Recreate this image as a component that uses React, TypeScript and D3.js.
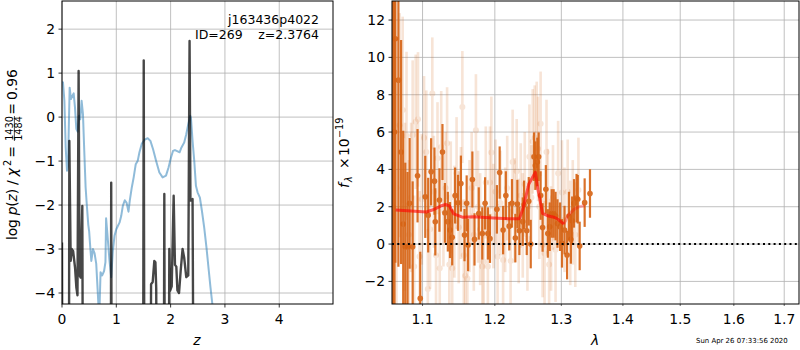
import React from "react";
import * as d3 from "d3";

// ---------- Left panel data (log p(z)) ----------
const blueZ = [0.0, 0.018, 0.044, 0.068, 0.092, 0.11, 0.141, 0.165, 0.19, 0.215, 0.239, 0.264, 0.288, 0.312, 0.337, 0.361, 0.386, 0.41, 0.435, 0.46, 0.484, 0.5, 0.52, 0.54, 0.57, 0.6, 0.63, 0.655, 0.685, 0.71, 0.74, 0.775, 0.8, 0.812, 0.83, 0.875, 0.906, 0.936, 0.967, 1.0, 1.03, 1.059, 1.09, 1.12, 1.156, 1.19, 1.224, 1.248, 1.285, 1.32, 1.358, 1.395, 1.426, 1.468, 1.517, 1.578, 1.628, 1.677, 1.732, 1.793, 1.853, 1.915, 1.963, 2.007, 2.044, 2.08, 2.13, 2.165, 2.2, 2.25, 2.288, 2.325, 2.362, 2.374, 2.404, 2.435, 2.466, 2.496, 2.539, 2.576, 2.618, 2.66, 2.697, 2.734, 2.77, 2.85];
const blueP = [0.8, 0.79, 0.37, -0.69, -1.22, -1.12, 0.67, 0.41, 0.48, 0.54, 0.22, -0.27, -0.33, 0.03, -0.05, 0.37, 0.07, -0.77, -1.6, -2.05, -2.45, -2.6, -2.95, -3.27, -3.0, -3.1, -3.33, -3.9, -4.6, -3.53, -3.6, -3.5, -3.3, -2.3, -2.57, -3.27, -3.64, -3.04, -2.7, -2.55, -2.47, -2.4, -2.25, -2.02, -1.89, -1.95, -2.15, -1.9, -1.6, -1.37, -1.07, -0.99, -0.8, -0.61, -0.52, -0.48, -0.54, -0.73, -0.99, -1.26, -1.37, -1.33, -1.14, -0.92, -0.77, -0.75, -0.78, -0.8, -0.69, -0.58, -0.39, -0.16, 0.03, -0.01, -0.54, -0.99, -1.56, -1.71, -1.83, -2.13, -2.51, -2.96, -3.42, -3.87, -4.27, -5.2];

const darkZ = [0.0, 0.012, 0.125, 0.135, 0.16, 0.18, 0.205, 0.24, 0.264, 0.285, 0.306, 0.324, 0.345, 0.374, 0.39, 0.895, 0.906, 0.918, 1.49, 1.505, 1.52, 1.625, 1.64, 1.67, 1.7, 1.72, 1.735, 1.75, 1.87, 1.884, 1.897, 1.96, 1.976, 1.99, 2.02, 2.056, 2.08, 2.105, 2.125, 2.155, 2.185, 2.22, 2.25, 2.288, 2.325, 2.349, 2.365, 2.38, 2.404, 2.43];
const darkP = [-2.85, -9, -9, -0.54, -3.27, -3.0, -3.05, -3.42, -3.87, -4.05, 1.05, -3.6, -3.65, -2.02, -9, -9, -1.49, -9, -9, 1.29, -9, -9, -3.8, -3.75, -3.27, -3.3, -3.9, -9, -9, -1.75, -9, -9, -3.0, -3.95, -3.85, -1.79, -3.36, -3.4, -3.94, -4.0, -3.5, -3.0, -3.2, -3.64, -3.6, 1.73, -1.9, -1.9, -1.86, -9];

const leftXTicks = [0, 1, 2, 3, 4];
const leftYTicks = [-4, -3, -2, -1, 0, 1, 2];

// ---------- Right panel data (spectrum) ----------
const boldLam = [1.0615, 1.0635, 1.0646, 1.0685, 1.072, 1.0747, 1.0774, 1.0803, 1.083, 1.087, 1.0934, 1.097, 1.1036, 1.1075, 1.1114, 1.1159, 1.117, 1.1226, 1.1267, 1.13, 1.134, 1.137, 1.14, 1.144, 1.148, 1.152, 1.157, 1.16, 1.162, 1.168, 1.171, 1.177, 1.182, 1.186, 1.19, 1.193, 1.203, 1.207, 1.212, 1.216, 1.221, 1.225, 1.23, 1.233, 1.236, 1.241, 1.243, 1.247, 1.25, 1.253, 1.258, 1.26, 1.263, 1.265, 1.268, 1.271, 1.276, 1.279, 1.282, 1.285, 1.288, 1.291, 1.294, 1.298, 1.301, 1.305, 1.309, 1.312, 1.315, 1.317, 1.32, 1.324, 1.326, 1.329, 1.337, 1.3456];
const boldF = [2.0, 6.0, 11.0, 8.78, 4.93, 1.07, -0.14, -0.14, 2.18, -0.14, 3.66, -2.91, 2.53, 1.55, 3.87, 3.37, 1.19, 2.36, 4.93, 1.67, 1.2, 0.75, 0.36, 2.6, 2.21, 3.24, 0.48, 2.18, -0.05, 3.46, 0.25, 1.64, 0.57, 2.18, 0.57, 0.29, 1.86, 3.83, 0.75, 2.6, 0.96, 2.18, 0.32, 2.14, 0.71, 1.2, 2.1, 0.71, 2.29, 0.0, 4.68, 4.2, 4.4, 4.68, 2.6, 0.89, 2.93, 0.57, 0.93, 1.64, 1.64, 1.5, 1.1, 0.93, 0.04, 0.75, -0.59, 1.5, 0.25, 1.25, 2.18, 2.46, 2.4, -0.1, 2.22, 2.71];
const boldErr = [16, 14, 12, 10, 6, 5, 4.5, 4, 3.5, 3.5, 2.5, 2.5, 2.2, 2, 1.8, 1.8, 1.8, 1.7, 1.5, 1.6, 1.6, 1.5, 1.5, 1.5, 1.5, 1.5, 1.4, 1.5, 1.4, 1.5, 1.4, 1.4, 1.4, 1.4, 1.4, 1.3, 1.3, 1.4, 1.3, 1.3, 1.3, 1.3, 1.3, 1.3, 1.3, 1.3, 1.3, 1.3, 1.3, 1.3, 1.3, 1.3, 1.3, 1.3, 1.3, 1.3, 1.3, 1.3, 1.3, 1.3, 1.3, 1.3, 1.3, 1.3, 1.3, 1.3, 1.3, 1.3, 1.3, 1.3, 1.3, 1.3, 1.3, 1.3, 1.3, 1.3];

const faintLam = [1.066, 1.07, 1.074, 1.077, 1.079, 1.082, 1.085, 1.087, 1.089, 1.091, 1.094, 1.096, 1.099, 1.102, 1.105, 1.107, 1.11, 1.113, 1.115, 1.118, 1.12, 1.123, 1.125, 1.128, 1.131, 1.133, 1.136, 1.138, 1.14, 1.143, 1.146, 1.149, 1.152, 1.154, 1.156, 1.158, 1.161, 1.164, 1.167, 1.17, 1.173, 1.176, 1.179, 1.182, 1.184, 1.187, 1.19, 1.193, 1.195, 1.198, 1.201, 1.204, 1.208, 1.212, 1.215, 1.218, 1.223, 1.226, 1.229, 1.232, 1.235, 1.238, 1.241, 1.244, 1.248, 1.251, 1.254, 1.256, 1.259, 1.262, 1.264, 1.266, 1.268, 1.271, 1.274, 1.277, 1.279, 1.281, 1.284, 1.287, 1.291, 1.295, 1.301, 1.305, 1.31, 1.314, 1.318, 1.322, 1.327];
const faintF = [3.0, 6.37, 7.18, 2.0, 5.8, 0.5, 2.5, 5.84, -1.2, 6.55, 6.68, -0.66, 2.4, 5.7, 4.93, -2.4, 0.8, 8.07, 2.8, -0.6, 4.6, -1.3, 5.2, 1.8, 3.0, 5.4, -1.1, 2.5, -1.3, 1.2, 3.8, 0.9, 2.2, 7.34, -0.6, -1.7, -1.85, 1.5, 3.0, 0.5, 6.1, 2.0, 0.8, -1.2, -0.95, 3.3, -1.2, 3.3, 4.9, 1.5, 2.8, -0.66, 2.2, -0.85, 1.3, 3.0, -0.9, 4.4, 1.8, 3.9, 0.7, 2.6, 1.0, 3.2, 0.3, 4.68, 2.5, 5.5, 5.7, 5.9, 5.1, 2.0, 6.44, -0.05, -0.5, 4.93, 2.3, -1.1, 0.3, 2.5, -0.3, 3.8, 2.76, 1.3, 2.8, 0.6, 1.7, 0.5, 2.9];
const faintErr = [8, 6, 5, 4.5, 4.5, 4, 4, 4, 3.8, 3.6, 3.6, 3.5, 3.5, 3.3, 3.3, 3.2, 3.2, 3, 3, 3, 3, 3, 3, 3, 3, 3, 3, 3, 3, 3, 3, 3, 3, 3, 3, 3, 3, 3, 3, 3, 3, 3, 3, 3, 3, 3, 3, 3, 3, 2.8, 2.8, 2.8, 2.8, 2.8, 2.8, 2.8, 2.8, 2.8, 2.8, 2.8, 2.8, 2.8, 2.8, 2.8, 2.8, 2.8, 2.8, 2.8, 2.8, 2.8, 2.8, 2.8, 2.8, 2.8, 2.8, 2.8, 2.8, 2.8, 2.8, 2.8, 2.8, 2.8, 2.8, 2.8, 2.8, 2.8, 2.8, 2.8, 2.8];

const redLam = [1.065, 1.08, 1.095, 1.105, 1.115, 1.125, 1.131, 1.136, 1.142, 1.154, 1.17, 1.198, 1.22, 1.236, 1.241, 1.25, 1.26, 1.264, 1.271, 1.28, 1.29, 1.296, 1.304];
const redF = [1.83, 1.78, 1.74, 1.72, 1.85, 2.05, 2.12, 2.05, 1.62, 1.44, 1.46, 1.4, 1.36, 1.36, 1.86, 3.2, 3.85, 2.9, 1.64, 1.5, 1.42, 1.3, 1.07];
const redTailLam = [1.304, 1.31, 1.32, 1.328, 1.337];
const redTailF = [1.07, 1.5, 1.86, 2.0, 2.05];

const rightXTicks = [1.1, 1.2, 1.3, 1.4, 1.5, 1.6, 1.7];
const rightYTicks = [-2, 0, 2, 4, 6, 8, 10, 12];

const FONT = "DejaVu Sans, sans-serif";
const ORANGE = "rgb(214,98,18)";
const fmt = (v: number) => (v < 0 ? "\u2212" + Math.abs(v) : String(v));

export default function App() {
  const L = { x0: 62, x1: 333, y0: 1, y1: 304 };
  const R = { x0: 392, x1: 799, y0: 1, y1: 304 };
  const xL = d3.scaleLinear().domain([0, 4.99]).range([L.x0, L.x1]);
  const yL = d3.scaleLinear().domain([-4.25, 2.64]).range([L.y1, L.y0]);
  const xR = d3.scaleLog().domain([1.0603, 1.7305]).range([R.x0, R.x1]);
  const yR = d3.scaleLinear().domain([-3.21, 13.02]).range([R.y1, R.y0]);

  const lLine = d3.line<[number, number]>().x((d) => xL(d[0])).y((d) => yL(d[1]));
  const bluePath = lLine(blueZ.map((z, i) => [z, blueP[i]]) as [number, number][]) || "";
  const darkPath = lLine(darkZ.map((z, i) => [z, darkP[i]]) as [number, number][]) || "";
  const rLine = d3.line<[number, number]>().x((d) => xR(d[0])).y((d) => yR(d[1]));
  const redPath = rLine(redLam.map((l, i) => [l, redF[i]]) as [number, number][]) || "";
  const redTailPath = rLine(redTailLam.map((l, i) => [l, redTailF[i]]) as [number, number][]) || "";

  const grid = "#b0b0b0";

  return (
    <svg width={800} height={350} style={{ display: "block", position: "absolute", left: 0, top: 0 }} fontFamily={FONT}>
      <rect x={0} y={0} width={800} height={350} fill="white" />
      <defs>
        <clipPath id="clipL"><rect x={L.x0} y={L.y0} width={L.x1 - L.x0} height={L.y1 - L.y0} /></clipPath>
        <clipPath id="clipR"><rect x={R.x0} y={R.y0} width={R.x1 - R.x0} height={R.y1 - R.y0} /></clipPath>
      </defs>

      {/* ---------- LEFT PANEL ---------- */}
      <g>
        {leftXTicks.map((t) => (
          <line key={"lgx" + t} x1={xL(t)} x2={xL(t)} y1={L.y0} y2={L.y1} stroke={grid} strokeWidth={0.8} />
        ))}
        {leftYTicks.map((t) => (
          <line key={"lgy" + t} x1={L.x0} x2={L.x1} y1={yL(t)} y2={yL(t)} stroke={grid} strokeWidth={0.8} />
        ))}
        <g clipPath="url(#clipL)">
          <path d={bluePath} fill="none" stroke="#1f77b4" strokeOpacity={0.5} strokeWidth={2} strokeLinejoin="round" />
          <path d={darkPath} fill="none" stroke="black" strokeOpacity={0.72} strokeWidth={2.4} strokeLinejoin="round" />
        </g>
        <text x={319} y={24} fontSize={12.5} textAnchor="end">j163436p4022</text>
        <text x={195} y={38.5} fontSize={12.5}>ID=269</text>
        <text x={319} y={38.5} fontSize={12.5} textAnchor="end">z=2.3764</text>
        <rect x={L.x0} y={L.y0} width={L.x1 - L.x0} height={L.y1 - L.y0} fill="none" stroke="black" strokeWidth={1} />
        {leftXTicks.map((t) => (
          <g key={"ltx" + t}>
            <line x1={xL(t)} x2={xL(t)} y1={L.y1} y2={L.y1 + 3.5} stroke="black" strokeWidth={0.8} />
            <text x={xL(t)} y={324} fontSize={13.9} textAnchor="middle">{fmt(t)}</text>
          </g>
        ))}
        {leftYTicks.map((t) => (
          <g key={"lty" + t}>
            <line x1={L.x0 - 3.5} x2={L.x0} y1={yL(t)} y2={yL(t)} stroke="black" strokeWidth={0.8} />
            <text x={L.x0 - 7} y={yL(t)} dy="0.36em" fontSize={13.9} textAnchor="end">{fmt(t)}</text>
          </g>
        ))}
        <text x={197} y={345} fontSize={13.9} textAnchor="middle" fontStyle="italic">z</text>
        <g transform="translate(17,240) rotate(-90)" fontSize={13.9}>
          <text x={0} y={0} textLength={72} lengthAdjust="spacing">
            log <tspan fontStyle="italic">p</tspan>(<tspan fontStyle="italic">z</tspan>) / <tspan fontStyle="italic">χ</tspan>
          </text>
          <text x={74} y={-6} fontSize={9.7}>2</text>
          <text x={88} y={0} textAnchor="middle">=</text>
          <text x={111.5} y={-3.8} fontSize={9.7} textAnchor="middle">1430</text>
          <line x1={99} x2={124} y1={-2.6} y2={-2.6} stroke="black" strokeWidth={0.7} />
          <text x={111.5} y={5.2} fontSize={9.7} textAnchor="middle">1484</text>
          <text x={131} y={0} textAnchor="middle">=</text>
          <text x={140} y={0}>0.96</text>
        </g>
      </g>

      {/* ---------- RIGHT PANEL ---------- */}
      <g>
        {rightXTicks.map((t) => (
          <line key={"rgx" + t} x1={xR(t)} x2={xR(t)} y1={R.y0} y2={R.y1} stroke={grid} strokeWidth={0.8} />
        ))}
        {rightYTicks.map((t) => (
          <line key={"rgy" + t} x1={R.x0} x2={R.x1} y1={yR(t)} y2={yR(t)} stroke={grid} strokeWidth={0.8} />
        ))}
        <g clipPath="url(#clipR)">
          {faintLam.map((l, i) => (
            <g key={"f" + i} opacity={0.17}>
              <line x1={xR(l)} x2={xR(l)} y1={yR(faintF[i] - faintErr[i])} y2={yR(faintF[i] + faintErr[i])} stroke={ORANGE} strokeWidth={2.6} />
              <circle cx={xR(l)} cy={yR(faintF[i])} r={3} fill={ORANGE} />
            </g>
          ))}
          {boldLam.map((l, i) => (
            <g key={"b" + i} opacity={0.9}>
              <line x1={xR(l)} x2={xR(l)} y1={yR(boldF[i] - boldErr[i])} y2={yR(boldF[i] + boldErr[i])} stroke={ORANGE} strokeWidth={2.2} />
              <circle cx={xR(l)} cy={yR(boldF[i])} r={2.8} fill={ORANGE} />
            </g>
          ))}
          <path d={redPath} fill="none" stroke="red" strokeOpacity={0.62} strokeWidth={3} strokeLinejoin="round" />
          <path d={redTailPath} fill="none" stroke="red" strokeOpacity={0.3} strokeWidth={3} strokeLinejoin="round" />
          <line x1={R.x0} x2={R.x1} y1={yR(0)} y2={yR(0)} stroke="black" strokeWidth={2} strokeDasharray="2,3.3" />
        </g>
        <rect x={R.x0} y={R.y0} width={R.x1 - R.x0} height={R.y1 - R.y0} fill="none" stroke="black" strokeWidth={1} />
        {rightXTicks.map((t) => (
          <g key={"rtx" + t}>
            <line x1={xR(t)} x2={xR(t)} y1={R.y1} y2={R.y1 + 2} stroke="black" strokeWidth={0.6} />
            <text x={xR(t)} y={324} fontSize={13.9} textAnchor="middle">{t.toFixed(1)}</text>
          </g>
        ))}
        {rightYTicks.map((t) => (
          <g key={"rty" + t}>
            <line x1={R.x0 - 3.5} x2={R.x0} y1={yR(t)} y2={yR(t)} stroke="black" strokeWidth={0.8} />
            <text x={R.x0 - 7} y={yR(t)} dy="0.36em" fontSize={13.9} textAnchor="end">{fmt(t)}</text>
          </g>
        ))}
        <text x={595} y={345} fontSize={13.9} textAnchor="middle" fontStyle="italic">λ</text>
        <g transform="translate(349,188) rotate(-90)" fontSize={13.9}>
          <text x={0} y={0} fontStyle="italic">f</text>
          <text x={6} y={3} fontSize={9.7} fontStyle="italic">λ</text>
          <text x={19} y={0}>×</text>
          <text x={32} y={0}>10</text>
          <text x={50} y={-6} fontSize={9.7}>−19</text>
        </g>
        <text x={696} y={342.5} fontSize={6.94}>Sun Apr 26 07:33:56 2020</text>
      </g>
    </svg>
  );
}
